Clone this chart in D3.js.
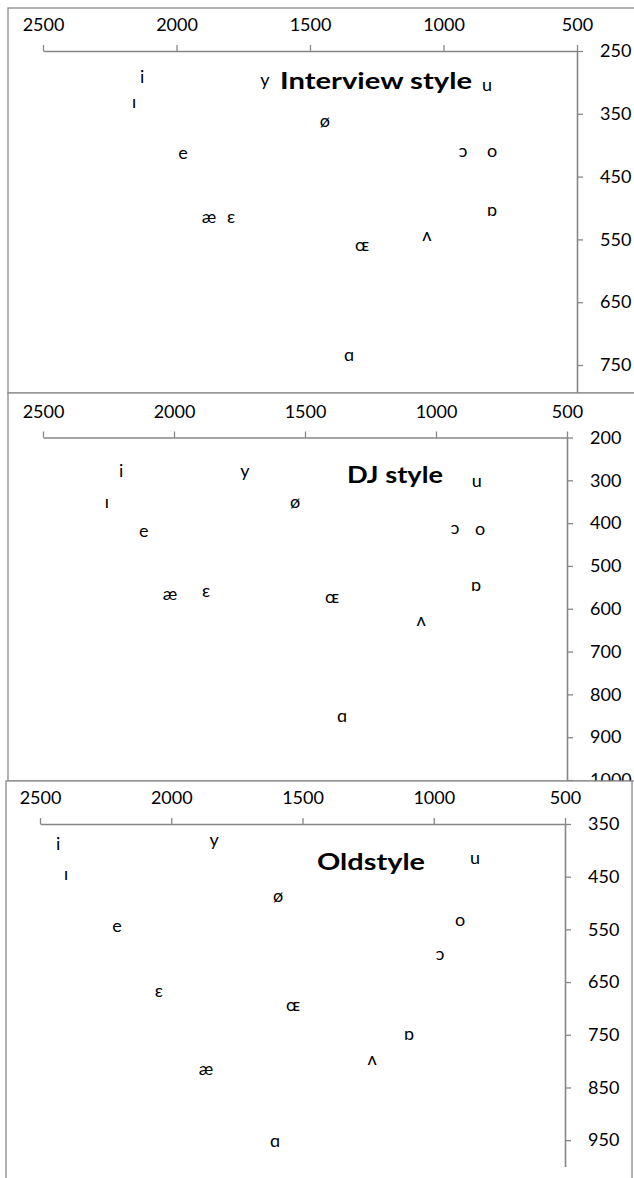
<!DOCTYPE html>
<html>
<head>
<meta charset="utf-8">
<script src="https://cdn.jsdelivr.net/npm/d3@7"></script>
<style>
  body { margin:0; background:#fff; }
  svg { display:block; font-family:Lato, "Open Sans", sans-serif; }
</style>
</head>
<body>
<svg></svg>
<script>
// vowel symbols, same order in every panel
var vowels = ["i","y","u","ɪ","ø","e","ɔ","o","æ","ɛ","ɒ","ʌ","ɶ","ɑ"];

// F2 (x) and F1 (y)
var interviewF2 = [2129,1669,837,2159,1444,1976,927,818,1878,1796,818,1062,1305,1354];
var interviewF1 = [293,299,306,334,363,414,412,411,517,517,506,546,561,737];

var djF2 = [2202,1729,844,2256,1538,2115,927,832,2015,1878,847,1057,1397,1359];
var djF1 = [281,281,304,355,355,421,414,416,570,561,549,629,577,855];

var oldF2 = [2431,1837,843,2401,1593,2207,976,900,1868,2047,1094,1235,1536,1605];
var oldF1 = [390,384,418,447,489,547,599,534,817,669,752,798,697,955];

var xTicks = [2500,2000,1500,1000,500];
var interviewYTicks = [250,350,450,550,650,750];
var djYTicks = [200,300,400,500,600,700,800,900,1000];
var oldYTicks = [350,450,550,650,750,850,950];

var titles = ["Interview style","DJ style","Oldstyle"];

start();

function start(){
  var width = 634;
  var height = 1178;

  var svg = d3.select("svg")
              .attr("width",width)
              .attr("height",height);

  var panels = [
    {f2:interviewF2, f1:interviewF1, yTicks:interviewYTicks, yDomain:[250,800], title:titles[0],
     frame:[8,8,640,385], xRange:[43,577], yRange:[51,396.4], titleBox:[280,89,192]},
    {f2:djF2, f1:djF1, yTicks:djYTicks, yDomain:[200,1000], title:titles[1],
     frame:[8,393,640,388], xRange:[43,567], yRange:[437.5,780], titleBox:[347,483,96]},
    {f2:oldF2, f1:oldF1, yTicks:oldYTicks, yDomain:[350,1000], title:titles[2],
     frame:[6,781,626,420], xRange:[40,565], yRange:[824,1166.5], titleBox:[317,870,108]}
  ];

  panels.forEach(function(p){ panel(svg,p); });
}

function panel(svg,p){
  var g = svg.append("g");

  g.append("rect")
   .attr("x",p.frame[0])
   .attr("y",p.frame[1])
   .attr("width",p.frame[2])
   .attr("height",p.frame[3])
   .attr("fill","#fff")
   .attr("stroke","#8a8a8a")
   .attr("stroke-width",1.3);

  var x = d3.scaleLinear().domain([2500,500]).range(p.xRange);
  var y = d3.scaleLinear().domain(p.yDomain).range(p.yRange);

  var xAxis = g.append("g")
               .attr("transform","translate(0,"+p.yRange[0]+")")
               .call(d3.axisTop(x).tickValues(xTicks).tickFormat(d3.format("d"))
                       .tickSize(6).tickSizeOuter(0).tickPadding(14));

  var yAxis = g.append("g")
               .attr("transform","translate("+p.xRange[1]+",0)")
               .call(d3.axisRight(y).tickValues(p.yTicks).tickFormat(d3.format("d"))
                       .tickSize(6).tickSizeOuter(0).tickPadding(17));

  [xAxis,yAxis].forEach(function(a){
    a.select(".domain").attr("stroke","#868686").attr("stroke-width",1.6);
    a.selectAll(".tick line").attr("stroke","#868686").attr("stroke-width",1.3);
    a.selectAll(".tick text").attr("fill","#000").attr("font-size",18)
     .attr("font-family","Lato, sans-serif");
  });

  g.selectAll("text.vowel")
   .data(vowels)
   .enter()
   .append("text")
   .attr("class","vowel")
   .attr("x",function(d,i){ return x(p.f2[i]); })
   .attr("y",function(d,i){ return y(p.f1[i]); })
   .attr("text-anchor","middle")
   .attr("dominant-baseline","middle")
   .attr("font-size",18)
   .attr("fill","#000")
   .text(function(d){ return d; });

  g.append("text")
   .attr("x",p.titleBox[0])
   .attr("y",p.titleBox[1])
   .attr("textLength",p.titleBox[2])
   .attr("lengthAdjust","spacingAndGlyphs")
   .attr("font-size",23)
   .attr("font-weight","bold")
   .attr("fill","#000")
   .text(p.title);
}
</script>
</body>
</html>
